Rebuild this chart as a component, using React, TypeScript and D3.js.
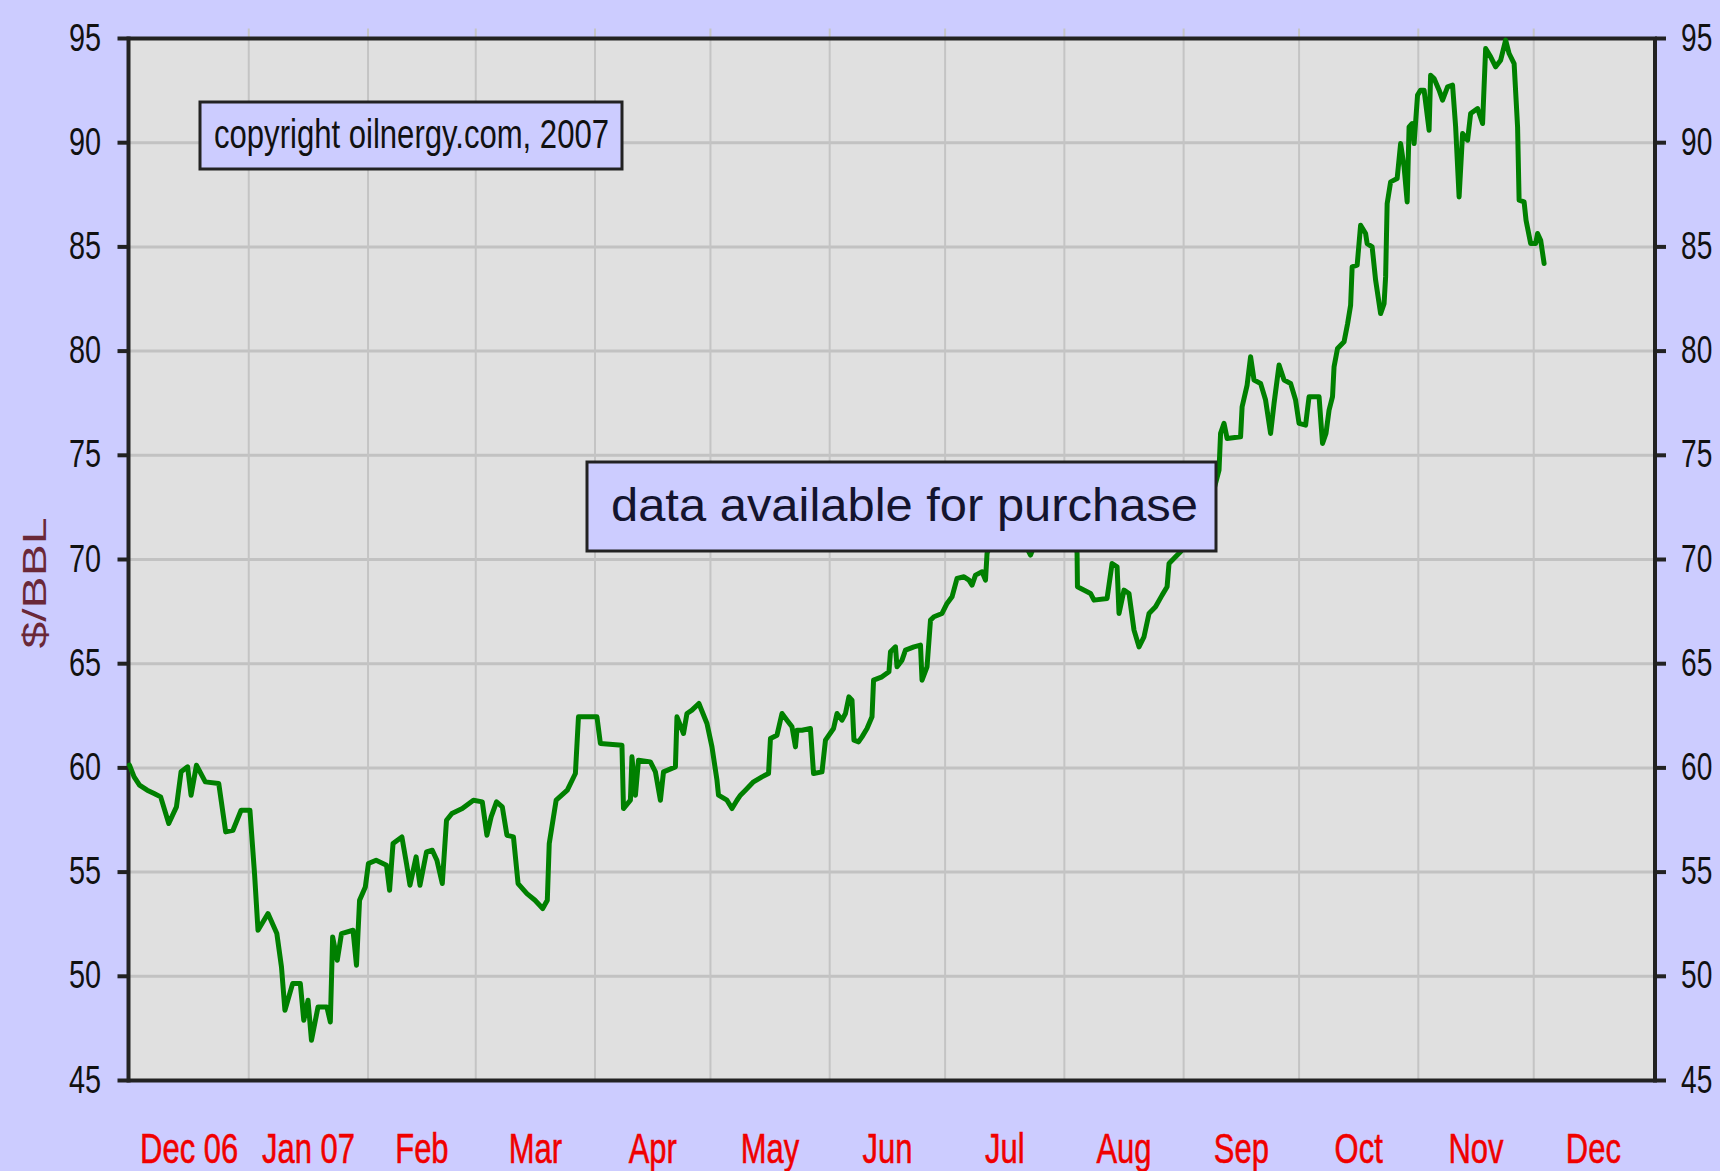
import * as d3 from "d3";

// days since 1 Dec 2006
const dayOffsets = [
  0, 1.2, 2.6, 4.6, 6.4, 8.1, 10.2, 12.2, 13.4, 15.1, 16.0, 17.4, 19.7, 23.2, 25.0, 26.9, 29.0, 31.3,
  32.5, 33.4, 36.0, 38.3, 39.5, 40.4, 42.4, 44.4, 45.3, 46.4, 47.3, 49.0, 51.3, 52.2, 52.8, 54.0, 55.1,
  58.1, 59.0, 59.8, 61.3, 62.1, 64.1, 66.8, 67.6, 68.5, 70.8, 72.0, 72.9, 74.5, 75.5, 77.2, 78.7, 79.9,
  81.3, 82.4, 83.8, 86.5, 89.4, 91.7, 92.9, 94.0, 95.4, 96.9, 98.1, 99.8, 101.0, 103.3, 105.4, 107.4,
  108.6, 109.1, 110.9, 113.8, 115.9, 116.7, 121.5, 122.4, 128.0, 128.4, 130.2, 130.6, 131.5, 132.3,
  135.4, 136.7, 138.0, 138.8, 141.9, 142.3, 144.0, 144.9, 146.2, 148.0, 150.1, 151.4, 152.7, 153.1,
  155.3, 156.6, 157.9, 158.8, 160.1, 162.2, 164.4, 166.1, 166.6, 168.3, 169.6, 170.9, 172.2, 173.1,
  173.5, 174.8, 177.0, 177.8, 180.0, 180.9, 183.0, 183.9, 185.2, 186.1, 187.0, 187.8, 188.3, 189.5,
  190.4, 191.7, 193.0, 193.4, 195.6, 197.4, 197.8, 199.1, 199.5, 200.8, 201.7, 203.9, 205.6, 206.0,
  207.3, 208.2, 209.1, 211.2, 212.5, 213.8, 215.1, 216.9, 218.2, 219.0, 219.9, 221.6, 222.5, 222.9,
  225.5, 228.5, 231.5, 234.2, 237.5, 240.5, 243.5, 246.0, 246.3, 246.4, 249.8, 250.7, 254.1, 255.4,
  256.7, 257.2, 258.5, 259.8, 261.1, 262.4, 263.7, 265.0, 266.7, 268.4, 269.7, 270.2, 271.9, 273.2,
  276.0, 279.0, 281.5, 283.2, 283.6, 284.5, 285.3, 288.8, 289.2, 290.5, 291.4, 292.3, 294.0, 295.3,
  296.6, 297.5, 298.8, 300.1, 301.8, 303.1, 304.0, 305.7, 306.6, 309.2, 310.1, 311.0, 311.8, 312.7,
  313.1, 314.0, 315.7, 316.6, 317.4, 317.8, 319.1, 320.0, 321.3, 321.7, 323.0, 323.9, 325.2, 326.1,
  326.5, 326.9, 327.8, 329.5, 330.4, 331.3, 332.1, 332.6, 333.4, 333.9, 334.8, 335.6, 336.5, 337.8,
  338.2, 339.1, 340.4, 341.3, 342.6, 343.9, 344.7, 345.6, 346.5, 347.8, 348.6, 350.4, 351.7, 352.5,
  353.8, 355.1, 356.4, 357.7, 358.6, 359.9, 360.8, 361.2, 362.5, 363.0, 364.2, 365.5, 366.0, 366.8, 367.7,
];

// $/BBL
const prices = [
  60.13, 59.57, 59.17, 58.93, 58.77, 58.61, 57.33, 58.13, 59.81, 60.05, 58.69, 60.13, 59.33, 59.25, 56.93, 57.01, 57.97, 57.97,
  54.93, 52.21, 53.01, 52.05, 50.45, 48.37, 49.65, 49.65, 47.89, 48.85, 46.93, 48.53, 48.53, 47.81, 51.89, 50.77, 52.05,
  52.21, 50.53, 53.65, 54.29, 55.41, 55.57, 55.33, 54.13, 56.37, 56.69, 55.41, 54.37, 55.73, 54.37, 55.97, 56.05, 55.57,
  54.45, 57.49, 57.81, 58.05, 58.45, 58.37, 56.77, 57.65, 58.37, 58.13, 56.77, 56.69, 54.45, 53.97, 53.65, 53.25,
  53.65, 56.37, 58.45, 58.93, 59.73, 62.45, 62.45, 61.17, 61.09, 58.05, 58.45, 60.53, 58.69, 60.37,
  60.29, 59.81, 58.45, 59.81, 60.05, 62.45, 61.65, 62.61, 62.77, 63.09, 62.13, 61.01, 59.41, 58.69,
  58.45, 58.05, 58.45, 58.69, 58.93, 59.33, 59.57, 59.73, 61.41, 61.57, 62.61, 62.29, 61.97, 61.01,
  61.81, 61.81, 61.89, 59.73, 59.81, 61.33, 61.89, 62.61, 62.29, 62.61, 63.41, 63.25, 61.33, 61.25,
  61.49, 61.89, 62.45, 64.21, 64.37, 64.61, 65.57, 65.81, 64.85, 65.17, 65.65, 65.81, 65.89, 64.21,
  64.85, 67.09, 67.25, 67.41, 67.89, 68.21, 69.09, 69.17, 69.01, 68.77, 69.25, 69.41, 69.01, 70.29,
  71.6, 72.4, 71.2, 70.21, 71.8, 73.2, 72.6, 71.0, 70.29, 68.69, 68.37, 68.05, 68.13, 69.81,
  69.65, 67.41, 68.53, 68.37, 66.61, 65.81, 66.29, 67.41, 67.73, 68.29, 68.69, 69.81, 70.13, 70.37,
  71.4, 72.6, 73.1, 74.29, 76.05, 76.53, 75.81, 75.89, 77.33, 78.37, 79.73, 78.61, 78.45, 77.65,
  76.05, 77.49, 79.33, 78.61, 78.45, 77.65, 76.53, 76.45, 77.81, 77.81, 75.57, 76.05, 77.17, 77.81,
  79.25, 80.13, 80.45, 81.3, 82.2, 84.04, 84.12, 86.04, 85.64, 85.16, 85.0, 83.4, 81.8, 82.28,
  83.56, 87.08, 88.12, 88.28, 89.96, 88.84, 87.16, 90.76, 90.92, 89.96, 92.28, 92.52, 92.52, 90.6,
  93.24, 93.08, 92.52, 92.04, 92.68, 92.76, 90.76, 87.4, 90.44, 90.12, 91.4, 91.64, 90.92, 94.52,
  94.12, 93.64, 93.96, 94.92, 94.28, 93.8, 90.76, 87.24, 87.16, 86.28, 85.16, 85.16, 85.64, 85.32, 84.2,
];

const monthLabels = ["Dec 06", "Jan 07", "Feb", "Mar", "Apr", "May", "Jun", "Jul", "Aug", "Sep", "Oct", "Nov", "Dec"];
const priceTicks = [45, 50, 55, 60, 65, 70, 75, 80, 85, 90, 95];

const W = 1720;
const H = 1171;
const left = 129.5;
const right = 1653;
const top = 38.5;
const bottom = 1080.5;
const font = '"Liberation Sans", Arial, sans-serif';

const startDate = new Date(2006, 11, 1);
const endDate = new Date(2008, 0, 1);

export default function App() {
  const x = d3.scaleTime().domain([startDate, endDate]).range([left, right]);
  const y = d3.scaleLinear().domain([45, 95]).range([bottom, top]);

  const points = dayOffsets.map((d, i) => ({
    date: new Date(startDate.getTime() + d * 864e5),
    value: prices[i],
  }));

  const line = d3
    .line<{ date: Date; value: number }>()
    .x((d) => x(d.date))
    .y((d) => y(d.value));

  const months = d3.timeMonth.range(startDate, endDate);
  const gridMonths = months.slice(1);

  return (
    <svg
      width={W}
      height={H}
      style={{ position: "absolute", left: 0, top: 0, display: "block", background: "#ccccff" }}
    >
      <rect x={0} y={0} width={W} height={H} fill="#ccccff" />
      <rect x={left} y={top} width={right - left} height={bottom - top} fill="#e0e0e0" />

      {/* grid */}
      {priceTicks.map((t) => (
        <line key={"h" + t} x1={left} x2={right} y1={y(t)} y2={y(t)} stroke="#c2c2c2" strokeWidth={3} />
      ))}
      {gridMonths.map((m, i) => (
        <line key={"v" + i} x1={x(m)} x2={x(m)} y1={top - 10} y2={bottom} stroke="#c4c4c4" strokeWidth={2} />
      ))}

      {/* frame */}
      <line x1={left} x2={right} y1={top} y2={top} stroke="#222" strokeWidth={4} />
      <line x1={left} x2={right + 2} y1={bottom} y2={bottom} stroke="#222" strokeWidth={4} />
      <line x1={left - 1} x2={left - 1} y1={top - 2} y2={bottom + 2} stroke="#222" strokeWidth={4} />
      <line x1={right + 2} x2={right + 2} y1={top - 2} y2={bottom + 2} stroke="#222" strokeWidth={4} />

      {/* y ticks + labels, both sides */}
      {priceTicks.map((t) => (
        <g key={"t" + t}>
          <line x1={left - 12} x2={left} y1={y(t)} y2={y(t)} stroke="#222" strokeWidth={4} />
          <line x1={right + 2} x2={right + 13} y1={y(t)} y2={y(t)} stroke="#222" strokeWidth={4} />
          <text
            transform={`translate(69,${y(t) + 12}) scale(0.74,1)`}
            fontFamily={font}
            fontSize={39}
            fill="#111"
          >
            {t}
          </text>
          <text
            transform={`translate(1681,${y(t) + 12}) scale(0.74,1)`}
            fontFamily={font}
            fontSize={38}
            fill="#111"
          >
            {t}
          </text>
        </g>
      ))}

      {/* month labels */}
      {months.map((m, i) => {
        const mid = (x(m) + x(d3.timeMonth.offset(m, 1))) / 2;
        return (
          <text
            key={"m" + i}
            transform={`translate(${mid},1163) scale(0.72,1)`}
            textAnchor="middle"
            fontFamily={font}
            fontSize={43}
            fill="#f00000"
            stroke="#f00000"
            strokeWidth={0.6}
          >
            {monthLabels[i]}
          </text>
        );
      })}

      {/* axis title */}
      <text
        transform="translate(46,583) rotate(-90) scale(1.3,0.9)"
        textAnchor="middle"
        fontFamily={font}
        fontSize={37}
        fill="#6a2838"
      >
        $/BBL
      </text>

      {/* price line */}
      <path
        d={line(points) || ""}
        fill="none"
        stroke="#008000"
        strokeWidth={5}
        strokeLinejoin="round"
        strokeLinecap="round"
      />

      {/* notes */}
      <rect x={200} y={102} width={422} height={67} fill="#ccccff" stroke="#222" strokeWidth={3} />
      <text
        x={214}
        y={148}
        fontFamily={font}
        fontSize={40}
        fill="#111"
        textLength={395}
        lengthAdjust="spacingAndGlyphs"
      >
        copyright oilnergy.com, 2007
      </text>

      <rect x={587} y={462} width={629} height={89} fill="#ccccff" stroke="#222" strokeWidth={3} />
      <text
        x={611}
        y={521}
        fontFamily={font}
        fontSize={46}
        fill="#14142e"
        textLength={587}
        lengthAdjust="spacingAndGlyphs"
      >
        data available for purchase
      </text>
    </svg>
  );
}
